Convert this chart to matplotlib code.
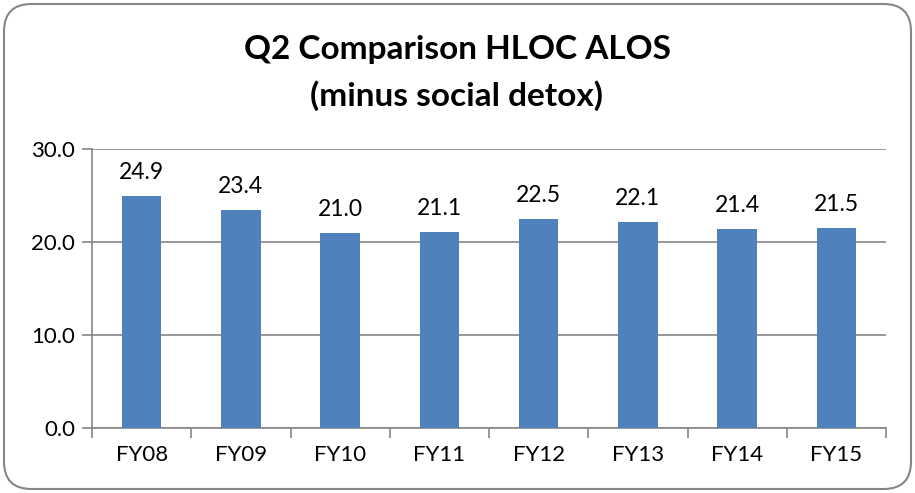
import matplotlib
matplotlib.use('Agg')
import matplotlib.pyplot as plt
from matplotlib.patches import FancyBboxPatch

years = ['FY08', 'FY09', 'FY10', 'FY11', 'FY12', 'FY13', 'FY14', 'FY15']
alos = [24.9, 23.4, 21.0, 21.1, 22.5, 22.1, 21.4, 21.5]
yticks = [0.0, 10.0, 20.0, 30.0]

plt.rcParams['font.family'] = ['Lato', 'DejaVu Sans']
grey = '#868686'

fig = plt.figure(figsize=(9.15, 4.93), dpi=100)
ax = fig.add_axes([92/915, 1-428/493, (886-92)/915, (428-149)/493])

x = range(len(years))
bars = ax.bar(x, alos, width=0.4, color='#4F81BD', zorder=3)
for xi, v in zip(x, alos):
    ax.text(xi, v + 1.4, '%.1f' % v, ha='center', va='bottom', fontsize=16.5)

ax.set_xlim(-0.5, len(years) - 0.5)
ax.set_ylim(0, 30)
ax.set_yticks(yticks)
ax.set_yticklabels(['%.1f' % t for t in yticks], fontsize=16)
ax.set_xticks(x)
ax.set_xticklabels(years, fontsize=16)
ax.set_xticks([i - 0.5 for i in range(len(years) + 1)], minor=True)
ax.tick_params(axis='x', which='major', length=0, pad=12)
ax.tick_params(axis='x', which='minor', length=7, color=grey, width=1.2, direction='out')
ax.tick_params(axis='y', length=7, color=grey, width=1.2, pad=5)
ax.grid(axis='y', color=grey, lw=1.2, zorder=0)
for s in ['top', 'right']:
    ax.spines[s].set_visible(False)
for s in ['left', 'bottom']:
    ax.spines[s].set_color(grey)
    ax.spines[s].set_linewidth(1.2)

fig.text(457/915, 1-50/493, 'Q2 Comparison HLOC ALOS', ha='center', va='center',
         fontsize=24, fontweight='bold')
fig.text(457/915, 1-96/493, '(minus social detox)', ha='center', va='center',
         fontsize=24, fontweight='bold')

border = FancyBboxPatch((4/915, 4/493), 907/915, 485/493,
                        boxstyle='round,pad=0,rounding_size=0.03',
                        transform=fig.transFigure, fill=False, ec=grey, lw=1.5,
                        mutation_aspect=915/493)
fig.patches.append(border)

fig.savefig('out.png', dpi=100)
